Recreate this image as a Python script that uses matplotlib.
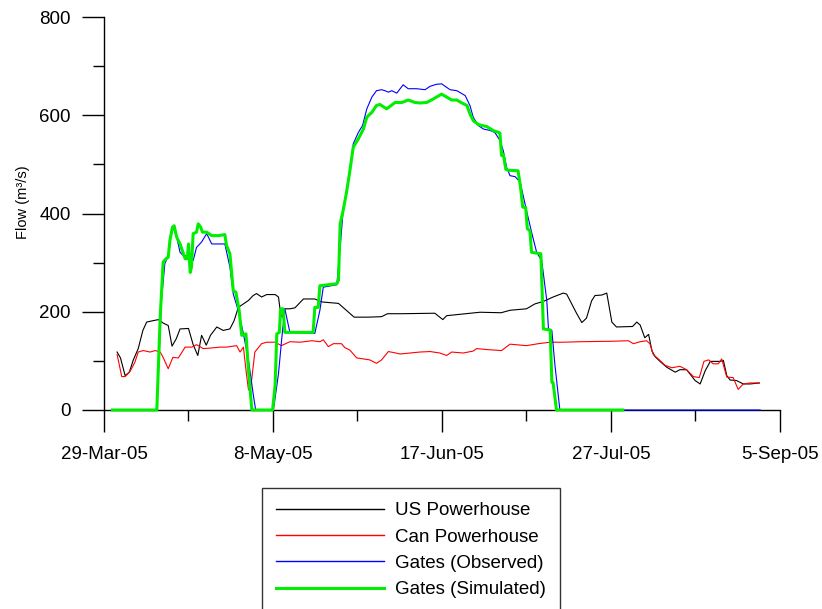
import matplotlib
matplotlib.use("Agg")
import matplotlib.pyplot as plt
import matplotlib.dates as mdates
from matplotlib.ticker import FixedLocator, FuncFormatter
from datetime import datetime
import numpy as np

plt.rcParams['font.family'] = ['Liberation Sans', 'DejaVu Sans']

start_date = datetime(2005, 3, 29)

# days since 29-Mar-05, flow values (m3/s)
us_days = [3.1, 3.9, 5, 6, 6.9, 8.1, 9.2, 10.1, 11.7, 12.9, 14, 15.2, 16.1, 17.1, 18, 20, 21.1, 22.2,
           23.1, 24.2, 25.2, 26.7, 28.2, 29.8, 30.8, 31.8, 33, 34.2, 35.3, 36.1, 37.3, 38.5, 40.5,
           41.3, 41.8, 42.2, 42.8, 44, 45.2, 47.2, 49.9, 51.5, 55.5, 59.2, 62.6, 65.7, 67.1, 70.5,
           78.3, 80.2, 81.1, 89, 94, 96.1, 100, 102, 104, 106.3, 108.7, 109.5, 110.7, 111.9, 113.1,
           114.2, 115.4, 116.2, 117.8, 119, 120.2, 121.3, 125.1, 126.1, 126.9, 128, 128.9, 129.7,
           130.5, 131.6, 133.2, 135.2, 136.3, 137.9, 139.9, 141.1, 142.3, 143.5, 145.9, 146.6, 147.4,
           148.2, 149.7, 151.3, 152.9, 155.1]
us_flow = [118, 106, 70, 77, 101, 125, 162, 179, 182, 184, 177, 172, 130, 145, 165, 166, 133, 111,
           152, 132, 152, 169, 162, 165, 182, 209, 216, 223, 233, 237, 230, 235, 235,
           230, 196, 189, 206, 206, 208, 226, 226, 220, 217, 189, 189, 190, 196, 196,
           197, 184, 192, 199, 198, 203, 206, 216, 221, 230, 238, 236, 216, 196, 178,
           187, 222, 233, 234, 238, 179, 169, 170, 179, 173, 147, 154, 120,
           108, 99, 87, 77, 82, 82, 60, 53, 80, 99, 99, 101, 70,
           61, 60, 53, 53, 55]

can_days = [3.1, 4.2, 5, 6.2, 7.3, 8.1, 9.3, 10.9, 12.1, 13.3, 14, 15.2, 16.3, 17.6, 19.2, 20.8, 21.9,
            23.5, 25.1, 27.5, 29, 31.4, 32.2, 33, 33.7, 34.2, 34.7, 35.7, 37.3, 38.5, 40.5, 42, 44,
            46.4, 49.2, 51.1, 51.9, 53.1, 54.3, 56.2, 57, 58.2, 59.8, 61.4, 62.9, 64.5, 65.7, 67.3,
            68.5, 70.1, 72.4, 74.8, 77.2, 79.5, 81.1, 82.3, 85, 87.4, 88.2, 90.6, 94.1, 96.1, 100,
            102.8, 105.6, 108.7, 112.7, 120.6, 124.1, 125.3, 126.9, 128.4, 129.2, 130, 131.2, 132.8,
            134.4, 136.3, 137.9, 139.5, 140.9, 142, 143.1, 144.2, 145.4, 146.2, 147.4, 148.9, 150.1,
            151.3, 152.9, 155.1]
can_flow = [113, 68, 68, 79, 97, 118, 121, 118, 121, 118, 107, 84, 107, 106, 128, 128, 133,
            125, 126, 128, 128, 131, 118, 128, 74, 41, 43, 118, 135, 138, 138, 131, 139,
            138, 141, 139, 143, 129, 135, 135, 127, 122, 106, 104, 102, 95, 102, 119,
            117, 114, 116, 118, 119, 116, 111, 118, 116, 120, 125, 123, 121, 134, 131,
            135, 138, 138, 139, 140, 141, 135, 139, 141, 135, 113, 104, 91,
            86, 89, 82, 68, 66, 99, 102, 94, 94, 104, 67, 66, 42,
            53, 55, 55]

obs_days = [2, 12.5, 13.6, 14.4, 15.2, 15.6, 16.4, 17.2, 18, 18.8, 20.4, 21.1, 21.9, 23.1, 24.3, 25.5,
            28.6, 29.8, 30.6, 31.8, 33, 34.2, 35.3, 35.9, 40.1, 41.3, 42.1, 42.8, 44, 49.9, 51.1, 51.9,
            55.1, 55.9, 56.6, 57.8, 59, 60.2, 61.2, 62.2, 63.4, 64.5, 65.7, 66.5, 67.3, 68.1, 69.3,
            70.8, 72, 74, 76, 77.2, 78.7, 79.9, 81.9, 83.5, 85.5, 86.6, 87.4, 88.6, 89.8, 91.4, 92.5,
            93.7, 94.5, 95.3, 96.1, 97.3, 98.5, 100, 101.2, 102.4, 103.6, 104.8, 105.2, 106, 106.7,
            107.9, 155.3]
obs_flow = [0, 0, 223, 298, 314, 345, 372, 352, 321, 314, 314, 304, 331, 342, 359, 338,
            338, 291, 236, 202, 155, 101, 33, 0, 0, 74, 148, 206, 158, 156, 203, 250,
            255, 331, 406, 467, 542, 565, 579, 613, 637, 650, 652, 650, 647, 650, 645,
            662, 654, 654, 652, 659, 663, 664, 652, 650, 640, 620, 596, 579, 572, 569, 565,
            549, 528, 494, 477, 475, 464, 406, 362, 321, 304, 223, 165, 162, 94,
            0, 0]

sim_days = [2, 12.5, 13.3, 14, 14.7, 15.2, 15.6, 16.2, 16.6, 17.2, 18, 19.2, 19.7, 20, 20.4, 20.7, 21.1,
            21.9, 22.3, 22.9, 23.3, 24.3, 25.5, 27.1, 28.6, 29, 29.8, 30.6, 31.2, 32, 32.6, 33.6, 34.2,
            35, 39.9, 40.5, 40.9, 41.5, 41.8, 42.4, 42.8, 49.5, 49.9, 50.7, 51.1, 55.1, 55.5, 55.9,
            56.6, 57.4, 58.2, 59, 60.2, 61.4, 62.2, 63.4, 64.5, 65.3, 66.9, 68.9, 70.5, 72, 73.6, 74.8,
            76.4, 77.9, 79.9, 81.1, 82.3, 83.5, 84.7, 85.9, 86.6, 87.4, 88.6, 90.6, 92.1, 93.7, 94.1,
            94.5, 95.1, 95.7, 98, 98.6, 99.1, 99.8, 100.2, 100.8, 101.2, 103.4, 104, 105.6, 106, 106.3,
            107.1, 122.8]
sim_flow = [0, 0, 189, 301, 308, 311, 345, 372, 375, 352, 338, 308, 308, 338, 280, 291, 359,
            362, 379, 372, 362, 362, 355, 355, 357, 335, 318, 243, 240, 202, 152, 155, 80,
            0, 0, 50, 155, 158, 206, 206, 158, 158, 209, 209, 253, 257, 264, 379,
            406, 443, 487, 535, 552, 572, 596, 606, 620, 622, 613, 626, 626, 631, 626, 625,
            626, 633, 643, 637, 631, 631, 625, 620, 603, 589, 581, 577, 569, 564, 518,
            521, 490, 488, 487, 453, 413, 412, 369, 365, 321, 318, 165, 163, 57, 55,
            0, 0]

series_labels = ["US Powerhouse", "Can Powerhouse", "Gates (Observed)", "Gates (Simulated)"]
y_ticks = [0, 200, 400, 600, 800]

base = mdates.date2num(start_date)
def to_x(d):
    return base + np.asarray(d, dtype=float)

fig = plt.figure(figsize=(8.22, 6.09), dpi=100)
ax = fig.add_axes([104/822, 1-410/609, 676/822, 393/609])

kw = dict(clip_on=False)
ax.plot(to_x(us_days), us_flow, color='black', lw=0.8, label=series_labels[0], zorder=3, **kw)
ax.plot(to_x(can_days), can_flow, color='#ff0000', lw=0.8, label=series_labels[1], zorder=3, **kw)
ax.plot(to_x(obs_days), obs_flow, color='#0000ff', lw=0.8, label=series_labels[2], zorder=4, **kw)
ax.plot(to_x(sim_days), sim_flow, color='#00ee00', lw=2.2, label=series_labels[3], zorder=5, **kw)

ax.set_xlim(base, base + 160)
ax.set_ylim(0, 800)

ax.xaxis.set_major_locator(FixedLocator(base + np.arange(0, 161, 40)))
ax.xaxis.set_minor_locator(FixedLocator(base + np.arange(20, 160, 40)))
def fmt(v, pos):
    d = mdates.num2date(v)
    return f"{d.day}-{d.strftime('%b-%y')}"
ax.xaxis.set_major_formatter(FuncFormatter(fmt))
ax.set_yticks(y_ticks)
ax.yaxis.set_minor_locator(FixedLocator([100, 300, 500, 700]))

for s in ['top', 'right']:
    ax.spines[s].set_visible(False)
for s in ['left', 'bottom']:
    ax.spines[s].set_linewidth(1.0)

ax.tick_params(axis='both', which='major', length=16, width=1.0, labelsize=13.5, direction='out')
ax.tick_params(axis='both', which='minor', length=8, width=1.0, direction='out')
ax.tick_params(axis='x', which='major', pad=10)
ax.tick_params(axis='y', which='major', pad=8)

fig.text(23/822, 1-202/609, "Flow (m³/s)", rotation=90, ha='center', va='center', fontsize=10.5)

leg = fig.legend(loc='upper left', bbox_to_anchor=(262/822, 1-488/609), borderaxespad=0,
                 fontsize=13.5, handlelength=5.74, handletextpad=0.62, labelspacing=0.49,
                 borderpad=0.75, fancybox=False, frameon=True)
leg.get_frame().set_edgecolor('black')
leg.get_frame().set_linewidth(1.0)
for line in leg.get_lines():
    line.set_linewidth(1.0 if line.get_label() != series_labels[3] else 2.2)

fig.savefig("out.png", dpi=100)
